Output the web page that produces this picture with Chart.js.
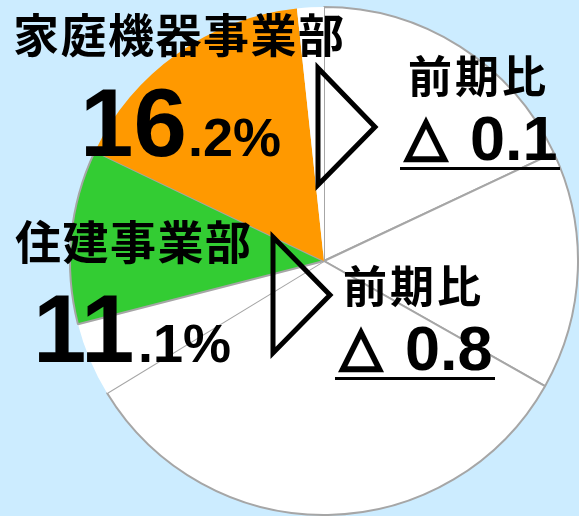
<!DOCTYPE html>
<html>
<head>
<meta charset="utf-8">
<script src="https://cdn.jsdelivr.net/npm/chart.js@4/dist/chart.umd.min.js"></script>
<style>
  html, body { margin: 0; padding: 0; background: #CCECFF; }
  #wrap { position: relative; width: 579px; height: 516px; }
</style>
</head>
<body>
<div id="wrap"><canvas id="c" width="579" height="516"></canvas></div>
<script>
// ---- data (shares, %) clockwise from 12 o'clock ----
const categories = ["その他1", "その他2", "その他3", "その他4", "住建事業部", "家庭機器事業部", "その他5"];
const shares = [18.0, 15.2, 33.1, 4.7, 11.1, 16.2, 1.7];
const sliceColors = ["#FFFFFF", "#FFFFFF", "#FFFFFF", "#FFFFFF", "#33CC33", "#FF9900", "#FFFFFF"];
const sliceBorderWidths = [2, 2, 2, 0, 2, 0, 0];

const homeLabel = "家庭機器事業部";
const homeShareInt = "16";
const homeShareDec = ".2%";
const homeDelta = "0.1";
const houseLabel = "住建事業部";
const houseShareInt = "11";
const houseShareDec = ".1%";
const houseDelta = "0.8";
const compareLabel = "前期比";
const deltaMark = "△";

const CJK = '"Noto Sans CJK JP", "Noto Sans CJK SC", sans-serif';
const LAT = '"Liberation Sans", Arial, sans-serif';

const annot = {
  id: 'annot',
  afterDraw(chart) {
    const ctx = chart.ctx;
    ctx.save();
    ctx.fillStyle = '#000';
    ctx.strokeStyle = '#000';

    // CJK labels
    ctx.textAlign = 'left';
    ctx.textBaseline = 'middle';
    ctx.font = 'bold 46px ' + CJK;
    ctx.letterSpacing = '1.5px';
    ctx.fillText(homeLabel, 13, 35);
    ctx.fillText(houseLabel, 15, 242);
    ctx.font = 'bold 44px ' + CJK;
    ctx.letterSpacing = '3px';
    ctx.fillText(compareLabel, 408, 76);
    ctx.fillText(compareLabel, 343, 286);
    ctx.letterSpacing = '0px';

    // big percentages
    ctx.textBaseline = 'alphabetic';
    ctx.font = 'bold 96px ' + LAT;
    ctx.fillText(homeShareInt, 80, 156);
    ctx.fillText(houseShareInt, 33, 362);
    ctx.font = 'bold 54px ' + LAT;
    ctx.fillText(homeShareDec, 188, 156);
    ctx.fillText(houseShareDec, 138, 362);

    // deltas
    ctx.font = 'bold 63px ' + LAT;
    ctx.fillText(homeDelta, 470, 160);
    ctx.fillText(houseDelta, 405, 370);
    ctx.textAlign = 'center';
    ctx.textBaseline = 'middle';
    ctx.font = 'bold 54px "DejaVu Sans", sans-serif';
    ctx.lineWidth = 3;
    ctx.lineJoin = 'miter';
    ctx.fillText(deltaMark, 426, 140);
    ctx.strokeText(deltaMark, 426, 140);
    ctx.fillText(deltaMark, 361, 350);
    ctx.strokeText(deltaMark, 361, 350);

    // underlines
    ctx.lineWidth = 3;
    ctx.beginPath();
    ctx.moveTo(400, 168.5); ctx.lineTo(560, 168.5);
    ctx.moveTo(335, 378.5); ctx.lineTo(495, 378.5);
    ctx.stroke();

    // outline triangles
    ctx.lineWidth = 5;
    ctx.lineJoin = 'miter';
    ctx.beginPath();
    ctx.moveTo(318, 68); ctx.lineTo(375, 127); ctx.lineTo(318, 185); ctx.closePath();
    ctx.moveTo(273, 237); ctx.lineTo(330, 295); ctx.lineTo(273, 353); ctx.closePath();
    ctx.stroke();
    ctx.restore();
  }
};

new Chart(document.getElementById('c'), {
  type: 'pie',
  data: {
    labels: categories,
    datasets: [{
      data: shares,
      backgroundColor: sliceColors,
      borderColor: '#A6A6A6',
      borderWidth: sliceBorderWidths,
      hoverOffset: 0,
      offset: 0
    }]
  },
  options: {
    responsive: false,
    animation: false,
    events: [],
    layout: { padding: { left: 69, right: 0, top: 6, bottom: 0 } },
    plugins: {
      legend: { display: false },
      tooltip: { enabled: false },
      title: { display: false }
    }
  },
  plugins: [annot]
});
</script>
</body>
</html>
